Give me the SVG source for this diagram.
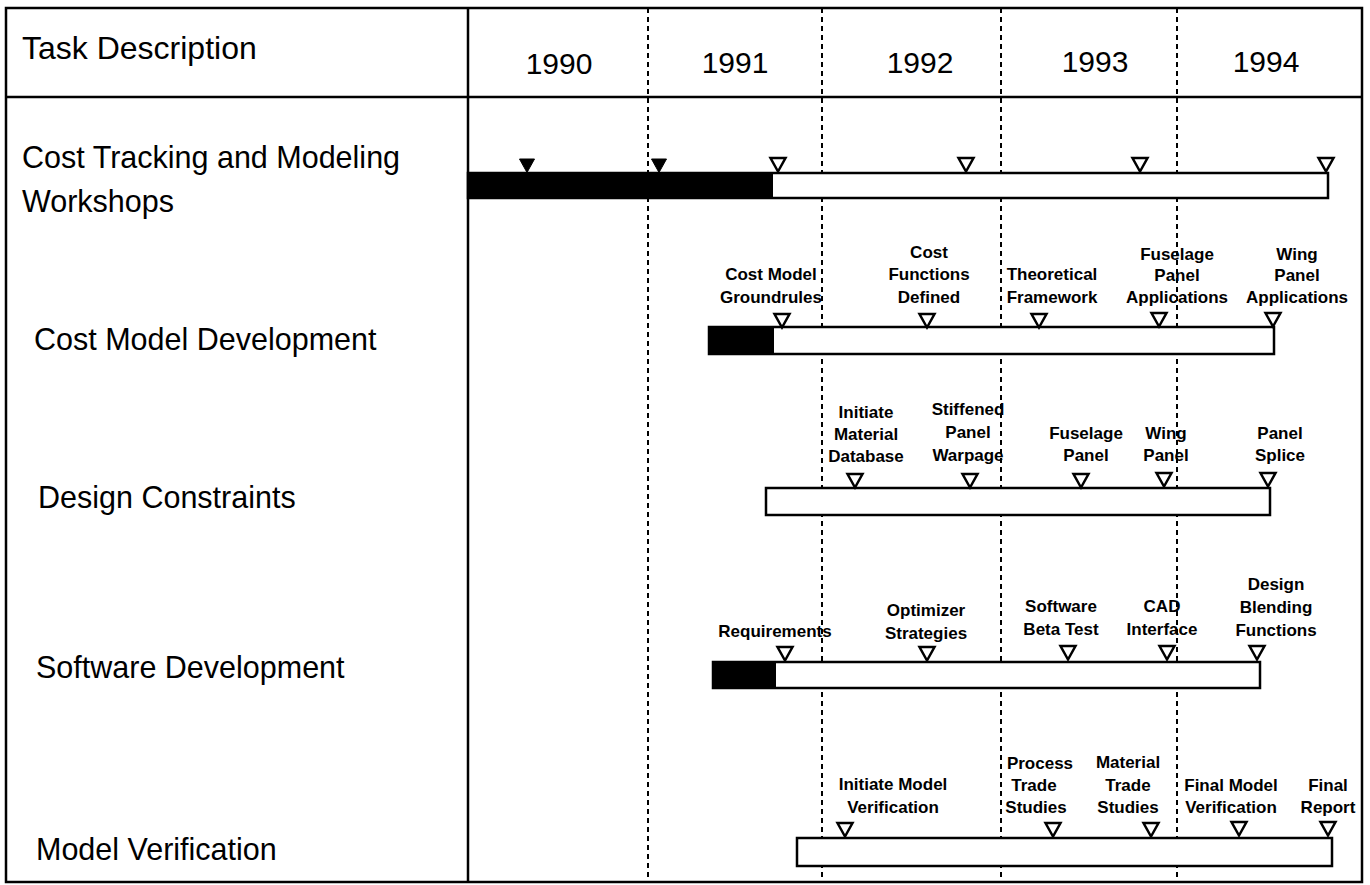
<svg xmlns="http://www.w3.org/2000/svg" xmlns:xlink="http://www.w3.org/1999/xlink" width="1370" height="885" viewBox="0 0 1370 885">
<style>
.frame{fill:none;stroke:#000;stroke-width:2.5}
.dash{stroke:#000;stroke-width:2;stroke-dasharray:5 4;fill:none}
.head{font-family:"Liberation Sans",Arial,sans-serif;font-size:32px;fill:#000}
.year{font-family:"Liberation Sans",Arial,sans-serif;font-size:30px;fill:#000;text-anchor:middle}
.task{font-family:"Liberation Sans",Arial,sans-serif;font-size:30.5px;fill:#000}
.ms{font-family:"Liberation Sans",Arial,sans-serif;font-size:17px;font-weight:bold;fill:#000;text-anchor:middle}
.bar{fill:#fff;stroke:#000;stroke-width:2.5}
.done{fill:#000;stroke:#000;stroke-width:2}
.otri{fill:#fff;stroke:#000;stroke-width:2.5;stroke-linejoin:miter}
.ftri{fill:#000;stroke:#000;stroke-width:1}
</style>
<defs>
<path id="tri" d="M-7.5,0 L7.5,0 L0,13.5 Z"/>
</defs>
<rect width="1370" height="885" fill="#fff"/>
<g id="table">
<rect class="frame" x="6" y="8" width="1356" height="874"/>
<line class="frame" x1="468" y1="8" x2="468" y2="882"/>
<line class="frame" x1="6" y1="97" x2="1362" y2="97"/>
</g>
<g id="connectors">
<line class="dash" x1="648" y1="8" x2="648" y2="882"/>
<line class="dash" x1="822" y1="8" x2="822" y2="882"/>
<line class="dash" x1="1001" y1="8" x2="1001" y2="882"/>
<line class="dash" x1="1177" y1="8" x2="1177" y2="882"/>
</g>
<g id="header">
<text class="head" x="22" y="59">Task Description</text>
<text class="year" x="559" y="74">1990</text>
<text class="year" x="735" y="73">1991</text>
<text class="year" x="920" y="73">1992</text>
<text class="year" x="1095" y="72">1993</text>
<text class="year" x="1266" y="72">1994</text>
</g>
<g id="row1">
<text class="task" x="22" y="168">Cost Tracking and Modeling</text>
<text class="task" x="22" y="212">Workshops</text>
<rect class="bar" x="468" y="173" width="860" height="25"/>
<rect class="done" x="468" y="173" width="304" height="25"/>
<use xlink:href="#tri" class="ftri" x="527" y="159"/>
<use xlink:href="#tri" class="ftri" x="659" y="159"/>
<use xlink:href="#tri" class="otri" x="778" y="158"/>
<use xlink:href="#tri" class="otri" x="966" y="158"/>
<use xlink:href="#tri" class="otri" x="1140" y="158"/>
<use xlink:href="#tri" class="otri" x="1326" y="158"/>
</g>
<g id="row2">
<text class="task" x="34" y="350">Cost Model Development</text>
<rect class="bar" x="709" y="327" width="565" height="27"/>
<rect class="done" x="709" y="327" width="64" height="27"/>
<use xlink:href="#tri" class="otri" x="782" y="314"/>
<use xlink:href="#tri" class="otri" x="927" y="314"/>
<use xlink:href="#tri" class="otri" x="1039" y="314"/>
<use xlink:href="#tri" class="otri" x="1159" y="313"/>
<use xlink:href="#tri" class="otri" x="1273" y="313"/>
<text class="ms" x="771" y="280">Cost Model</text>
<text class="ms" x="771" y="303">Groundrules</text>
<text class="ms" x="929" y="258">Cost</text>
<text class="ms" x="929" y="280">Functions</text>
<text class="ms" x="929" y="303">Defined</text>
<text class="ms" x="1052" y="280">Theoretical</text>
<text class="ms" x="1052" y="303">Framework</text>
<text class="ms" x="1177" y="260">Fuselage</text>
<text class="ms" x="1177" y="281">Panel</text>
<text class="ms" x="1177" y="303">Applications</text>
<text class="ms" x="1297" y="260">Wing</text>
<text class="ms" x="1297" y="281">Panel</text>
<text class="ms" x="1297" y="303">Applications</text>
</g>
<g id="row3">
<text class="task" x="38" y="508">Design Constraints</text>
<rect class="bar" x="766" y="488" width="504" height="27"/>
<use xlink:href="#tri" class="otri" x="855" y="474"/>
<use xlink:href="#tri" class="otri" x="970" y="474"/>
<use xlink:href="#tri" class="otri" x="1081" y="474"/>
<use xlink:href="#tri" class="otri" x="1164" y="473"/>
<use xlink:href="#tri" class="otri" x="1268" y="473"/>
<text class="ms" x="866" y="418">Initiate</text>
<text class="ms" x="866" y="440">Material</text>
<text class="ms" x="866" y="462">Database</text>
<text class="ms" x="968" y="415">Stiffened</text>
<text class="ms" x="968" y="438">Panel</text>
<text class="ms" x="968" y="461">Warpage</text>
<text class="ms" x="1086" y="439">Fuselage</text>
<text class="ms" x="1086" y="461">Panel</text>
<text class="ms" x="1166" y="439">Wing</text>
<text class="ms" x="1166" y="461">Panel</text>
<text class="ms" x="1280" y="439">Panel</text>
<text class="ms" x="1280" y="461">Splice</text>
</g>
<g id="row4">
<text class="task" x="36" y="678">Software Development</text>
<rect class="bar" x="713" y="662" width="547" height="26"/>
<rect class="done" x="713" y="662" width="62" height="26"/>
<use xlink:href="#tri" class="otri" x="785" y="647"/>
<use xlink:href="#tri" class="otri" x="927" y="647"/>
<use xlink:href="#tri" class="otri" x="1068" y="646"/>
<use xlink:href="#tri" class="otri" x="1167" y="646"/>
<use xlink:href="#tri" class="otri" x="1257" y="646"/>
<text class="ms" x="775" y="637">Requirements</text>
<text class="ms" x="926" y="616">Optimizer</text>
<text class="ms" x="926" y="639">Strategies</text>
<text class="ms" x="1061" y="612">Software</text>
<text class="ms" x="1061" y="635">Beta Test</text>
<text class="ms" x="1162" y="612">CAD</text>
<text class="ms" x="1162" y="635">Interface</text>
<text class="ms" x="1276" y="590">Design</text>
<text class="ms" x="1276" y="613">Blending</text>
<text class="ms" x="1276" y="636">Functions</text>
</g>
<g id="row5">
<text class="task" x="36" y="860">Model Verification</text>
<rect class="bar" x="797" y="838" width="535" height="28"/>
<use xlink:href="#tri" class="otri" x="845" y="823"/>
<use xlink:href="#tri" class="otri" x="1053" y="823"/>
<use xlink:href="#tri" class="otri" x="1151" y="823"/>
<use xlink:href="#tri" class="otri" x="1239" y="822"/>
<use xlink:href="#tri" class="otri" x="1328" y="822"/>
<text class="ms" x="893" y="790">Initiate Model</text>
<text class="ms" x="893" y="813">Verification</text>
<text class="ms" x="1040" y="769">Process</text>
<text class="ms" x="1034" y="791">Trade</text>
<text class="ms" x="1036" y="813">Studies</text>
<text class="ms" x="1128" y="768">Material</text>
<text class="ms" x="1128" y="791">Trade</text>
<text class="ms" x="1128" y="813">Studies</text>
<text class="ms" x="1231" y="791">Final Model</text>
<text class="ms" x="1231" y="813">Verification</text>
<text class="ms" x="1328" y="791">Final</text>
<text class="ms" x="1328" y="813">Report</text>
</g>
</svg>
